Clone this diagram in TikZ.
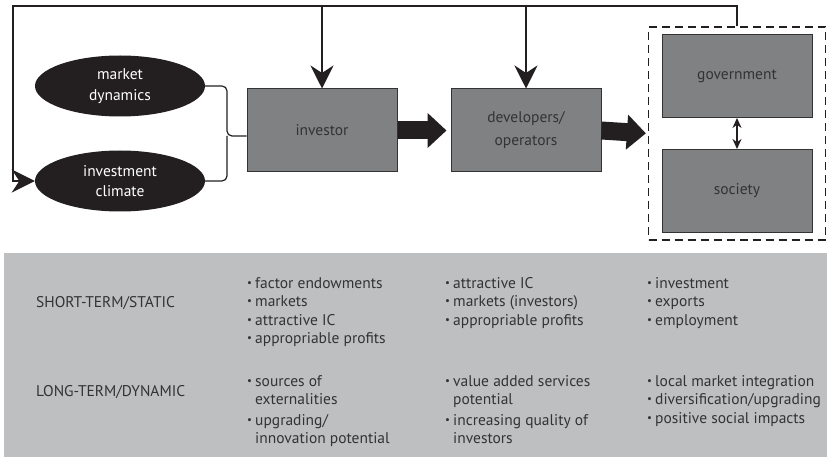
\documentclass[tikz,border=0pt]{standalone}
\usepackage{fontspec}
\setmainfont{PT Sans}
\usetikzlibrary{arrows.meta,shapes.geometric,fit}
\definecolor{boxgray}{RGB}{128,129,131}
\definecolor{inkblack}{RGB}{35,31,32}
\definecolor{panelgray}{RGB}{190,191,193}
\definecolor{textgray}{RGB}{51,51,51}
\newcommand{\bul}{\makebox[8pt][l]{\raisebox{1.8pt}{\scalebox{0.7}{\textbullet}}}}

\begin{document}
\begin{tikzpicture}[x=1pt,y=-1pt,
    box/.style={draw=textgray, line width=1pt, fill=boxgray, text=textgray, minimum width=150pt, minimum height=83pt, inner sep=0pt, align=center, font=\fontsize{15.5}{23}\selectfont},
    blob/.style={ellipse, fill=inkblack, text=white, minimum width=170pt, minimum height=61pt, inner sep=0pt, align=center, font=\fontsize{15.5}{20.5}\selectfont},
    dashbox/.style={draw=inkblack, line width=1.2pt, dash pattern=on 8pt off 5pt, inner xsep=13pt, inner ysep=7pt},
    loopline/.style={draw=inkblack, line width=2.2pt},
    loophead/.style={-{Stealth[length=23pt,width=23pt]}},
    fat/.style={draw=inkblack, line width=18pt, -{Triangle[length=19pt,width=34pt]}},
    brace/.style={draw=inkblack, line width=1.2pt, rounded corners=5pt},
    row/.style={anchor=base west, inner sep=0pt, text=textgray, font=\fontsize{15.5}{18.5}\selectfont},
  ]
    \useasboundingbox (0,0) rectangle (827,457);
    \fill[panelgray] (4,253) rectangle (827,457);

    % top part
    \node[blob] (mkt) at (120,86) {market\\dynamics};
    \node[blob] (clim) at (120,181) {investment\\climate};
    \node[box] (inv) at (322,130.5) {investor};
    \node[box] (dev) at (526,130.5) {developers/\\operators};
    \node[box] (gov) at (737,76) {government};
    \node[box] (soc) at (737,191) {society};
    \node[dashbox, fit=(gov)(soc)] (ctx) {};

    \coordinate (join) at (227,136);
    \coordinate (tl) at (13,6);
    \draw[brace] (mkt.east) -| (join) -- (join -| inv.west);
    \draw[brace] (clim.east) -| (join);

    \draw[loopline, loophead] (ctx.north) |- (tl) |- (clim.west);
    \draw[loopline, loophead] (inv.north |- tl) -- (inv.north);
    \draw[loopline, loophead] (dev.north |- tl) -- (dev.north);

    \draw[fat, shorten >=4pt] (inv.east) -- (dev.west);
    \draw[fat, shorten >=2pt] (dev.east) -- (ctx.west);
    \draw[inkblack, line width=1.4pt, {Stealth[length=10pt,width=9pt]}-{Stealth[length=10pt,width=9pt]}] (gov.south) -- (soc.north);

    % bottom table
    \node[row] (short) at (36,307) {SHORT-TERM/STATIC};
    \node[row] (long) at (36,396) {LONG-TERM/DYNAMIC};

    \node[row] (s1) at (247,288) {\begin{tabular}[t]{@{}l@{}l@{}}
      \bul & factor endowments\\ \bul & markets\\ \bul & attractive IC\\ \bul & appropriable profits
    \end{tabular}};
    \node[row] (s2) at (445,288) {\begin{tabular}[t]{@{}l@{}l@{}}
      \bul & attractive IC\\ \bul & markets (investors)\\ \bul & appropriable profits
    \end{tabular}};
    \node[row] (s3) at (647,288) {\begin{tabular}[t]{@{}l@{}l@{}}
      \bul & investment\\ \bul & exports\\ \bul & employment
    \end{tabular}};

    \node[row] (l1) at (247,386) {\begin{tabular}[t]{@{}l@{}l@{}}
      \bul & sources of\\ & externalities\\[2pt] \bul & upgrading/\\ & innovation potential
    \end{tabular}};
    \node[row] (l2) at (445,386) {\begin{tabular}[t]{@{}l@{}l@{}}
      \bul & value added services\\ & potential\\[2pt] \bul & increasing quality of\\ & investors
    \end{tabular}};
    \node[row] (l3) at (647,386) {\begin{tabular}[t]{@{}l@{}l@{}}
      \bul & local market integration\\ \bul & diversification/upgrading\\ \bul & positive social impacts
    \end{tabular}};
\end{tikzpicture}
\end{document}
